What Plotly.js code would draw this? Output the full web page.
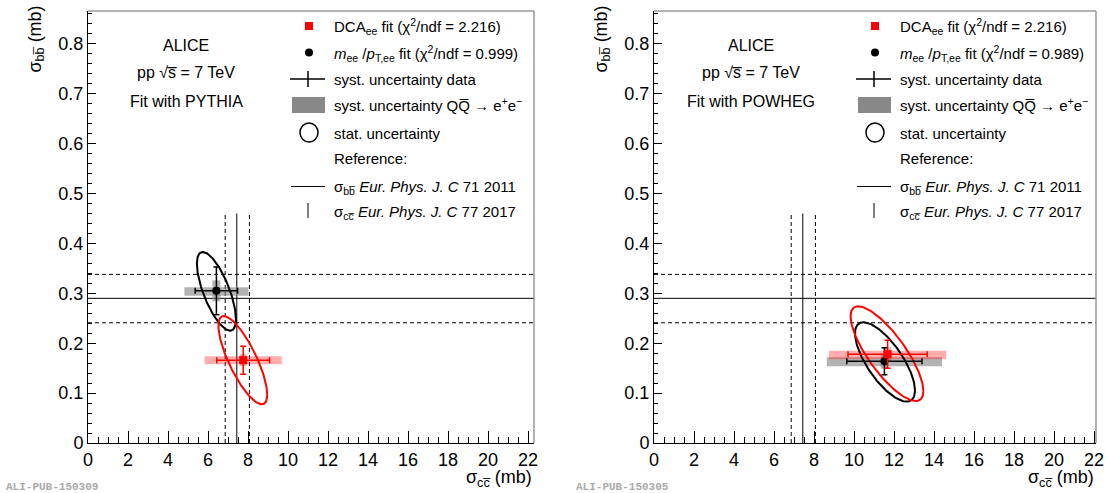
<!DOCTYPE html>
<html><head><meta charset="utf-8">
<script src="https://cdn.plot.ly/plotly-3.0.1.min.js"></script>
<style>body{margin:0;background:#fff}#plot{width:1105px;height:493px}</style>
</head><body><div id="plot"></div>
<script>
// ---------- data ----------
const panels = ["PYTHIA", "POWHEG"];
const pubIds = ["ALI-PUB-150309", "ALI-PUB-150305"];
const dcaChi2 = ["2.216", "2.216"];
const meeChi2 = ["0.999", "0.989"];

// DCA_ee fit points [PYTHIA, POWHEG]
const dcaX = [7.76, 11.68];
const dcaY = [0.166, 0.178];
const dcaErrX = [1.32, 1.98];
const dcaErrY = [0.028, 0.028];
const dcaSystX = [1.93, 2.93];
const dcaSystY = [0.008, 0.0085];
const dcaSystBoxY = [0.166, 0.1765];
const dcaVSystX = [0.18, 0.18];
const dcaVSystY = [0.012, 0.014];

// m_ee/pT,ee fit points
const meeX = [6.42, 11.52];
const meeY = [0.305, 0.164];
const meeErrX = [1.06, 1.88];
const meeErrY = [0.048, 0.027];
const meeSystX = [1.6, 2.88];
const meeSystY = [0.0085, 0.009];
const meeSystBoxY = [0.3035, 0.163];
const meeVSystX = [0.2, 0.18];
const meeVSystY = [0.021, 0.015];

// stat. uncertainty contours: centre, half extents, correlation
const dcaEllX = [7.74, 11.65];
const dcaEllY = [0.166, 0.179];
const dcaEllSX = [1.22, 1.82];
const dcaEllSY = [0.0885, 0.095];
const dcaEllRho = [-0.78, -0.79];
const meeEllX = [6.42, 11.55];
const meeEllY = [0.304, 0.1625];
const meeEllSX = [0.975, 1.5];
const meeEllSY = [0.079, 0.0795];
const meeEllRho = [-0.70, -0.72];

// reference values
const sigmaBB = [0.290, 0.241, 0.338];   // central, low, high
const sigmaCC = [7.44, 6.86, 8.07];      // central, low, high
const ccRefTop = 0.46;

const xTickStep = 2, yTickStep = 0.1;

// ---------- layout helpers ----------
const W = 1105, H = 493;
const fx = px => px / W, fy = py => 1 - py / H;
const FONT = "Liberation Sans, Arial, Helvetica, sans-serif";
const frames = [[88, 534, 22.3], [654, 1096, 22.1]];
const yTop = 11, yBot = 443;

function ellipse(cx, cy, sx, sy, rho) {
  const xs = [], ys = [], n = 180, r2 = Math.sqrt(1 - rho * rho);
  for (let i = 0; i <= n; i++) {
    const t = 2 * Math.PI * i / n;
    xs.push(cx + sx * Math.cos(t));
    ys.push(cy + sy * (rho * Math.cos(t) + r2 * Math.sin(t)));
  }
  return [xs, ys];
}

const traces = [], shapes = [], annotations = [];
const layout = {
  width: W, height: H, margin: {l: 0, r: 0, t: 0, b: 0},
  paper_bgcolor: "#fff", plot_bgcolor: "#fff", showlegend: false,
  font: {family: FONT, color: "#000"}
};

panels.forEach((name, i) => {
  const xa = i === 0 ? "x" : "x2", ya = i === 0 ? "y" : "y2";
  const xk = i === 0 ? "xaxis" : "xaxis2", yk = i === 0 ? "yaxis" : "yaxis2";
  const [fl, fr, xmax] = frames[i];
  layout[xk] = {
    domain: [fx(fl), fx(fr)], range: [0, xmax], anchor: ya,
    tickmode: "linear", tick0: 0, dtick: xTickStep,
    ticks: "inside", ticklen: 12, tickcolor: "#000", tickwidth: 1,
    minor: {dtick: 0.5, ticks: "inside", ticklen: 6, tickcolor: "#000", tickwidth: 1},
    showline: true, linecolor: "#000", linewidth: 1,
    showgrid: false, zeroline: false,
    tickfont: {size: 18, family: FONT}
  };
  layout[yk] = {
    domain: [fy(yBot), fy(yTop)], range: [0, 0.866], anchor: xa,
    tickmode: "linear", tick0: 0, dtick: yTickStep,
    ticks: "inside", ticklen: 8, tickcolor: "#000", tickwidth: 1,
    minor: {dtick: 0.02, ticks: "inside", ticklen: 4, tickcolor: "#000", tickwidth: 1},
    showline: true, linecolor: "#000", linewidth: 1,
    showgrid: false, zeroline: false,
    tickfont: {size: 18, family: FONT}
  };
  // frame (top, right)
  shapes.push({type: "line", xref: "paper", yref: "paper", x0: fx(fl), x1: fx(fr), y0: fy(yTop), y1: fy(yTop), line: {color: "#999", width: 1.5}});
  shapes.push({type: "line", xref: "paper", yref: "paper", x0: fx(fr), x1: fx(fr), y0: fy(yTop), y1: fy(yBot), line: {color: "#999", width: 1.5}});

  // reference lines
  sigmaBB.forEach((v, k) => shapes.push({type: "line", xref: xa, yref: ya, layer: "below",
    x0: 0, x1: xmax, y0: v, y1: v, line: {color: "#000", width: 1, dash: k === 0 ? "solid" : "4px,3px"}}));
  sigmaCC.forEach((v, k) => shapes.push({type: "line", xref: xa, yref: ya, layer: "below",
    x0: v, x1: v, y0: 0, y1: ccRefTop, line: {color: "#000", width: 1, dash: k === 0 ? "solid" : "4px,3px"}}));

  // syst. boxes (QQbar -> ee)
  const gray = "rgba(128,128,128,0.6)", pink = "rgba(255,0,0,0.32)";
  shapes.push({type: "rect", xref: xa, yref: ya, layer: "below", line: {width: 0}, fillcolor: gray,
    x0: meeX[i] - meeSystX[i], x1: meeX[i] + meeSystX[i], y0: meeSystBoxY[i] - meeSystY[i], y1: meeSystBoxY[i] + meeSystY[i]});
  shapes.push({type: "rect", xref: xa, yref: ya, layer: "below", line: {width: 0}, fillcolor: gray,
    x0: meeX[i] - meeVSystX[i], x1: meeX[i] + meeVSystX[i], y0: meeY[i] - meeVSystY[i], y1: meeY[i] + meeVSystY[i]});
  shapes.push({type: "rect", xref: xa, yref: ya, layer: "below", line: {width: 0}, fillcolor: pink,
    x0: dcaX[i] - dcaSystX[i], x1: dcaX[i] + dcaSystX[i], y0: dcaSystBoxY[i] - dcaSystY[i], y1: dcaSystBoxY[i] + dcaSystY[i]});
  shapes.push({type: "rect", xref: xa, yref: ya, layer: "below", line: {width: 0}, fillcolor: pink,
    x0: dcaX[i] - dcaVSystX[i], x1: dcaX[i] + dcaVSystX[i], y0: dcaY[i] - dcaVSystY[i], y1: dcaY[i] + dcaVSystY[i]});

  // stat. ellipses
  const eb = ellipse(meeEllX[i], meeEllY[i], meeEllSX[i], meeEllSY[i], meeEllRho[i]);
  traces.push({x: eb[0], y: eb[1], xaxis: xa, yaxis: ya, mode: "lines", line: {color: "#000", width: 2}, hoverinfo: "skip"});
  const er = ellipse(dcaEllX[i], dcaEllY[i], dcaEllSX[i], dcaEllSY[i], dcaEllRho[i]);
  traces.push({x: er[0], y: er[1], xaxis: xa, yaxis: ya, mode: "lines", line: {color: "#ff0000", width: 2}, hoverinfo: "skip"});

  // points with syst. data uncertainty
  traces.push({x: [meeX[i]], y: [meeY[i]], xaxis: xa, yaxis: ya, mode: "markers",
    marker: {symbol: "circle", size: 8, color: "#000"},
    error_x: {type: "data", array: [meeErrX[i]], color: "#000", thickness: 1.5, width: 3},
    error_y: {type: "data", array: [meeErrY[i]], color: "#000", thickness: 1.5, width: 3}});
  traces.push({x: [dcaX[i]], y: [dcaY[i]], xaxis: xa, yaxis: ya, mode: "markers",
    marker: {symbol: "square", size: 8, color: "#ff0000"},
    error_x: {type: "data", array: [dcaErrX[i]], color: "#ff0000", thickness: 1.5, width: 3},
    error_y: {type: "data", array: [dcaErrY[i]], color: "#ff0000", thickness: 1.5, width: 3}});

  // legend (drawn manually)
  const o = i === 0 ? 0 : 566;
  const sx = 309 + o, tx = 332 + o;
  shapes.push({type: "rect", xref: "paper", yref: "paper", x0: fx(sx - 4), x1: fx(sx + 4), y0: fy(30), y1: fy(22), fillcolor: "#ff0000", line: {width: 0}});
  shapes.push({type: "circle", xref: "paper", yref: "paper", x0: fx(sx - 4), x1: fx(sx + 4), y0: fy(56.5), y1: fy(48.5), fillcolor: "#000", line: {width: 0}});
  shapes.push({type: "line", xref: "paper", yref: "paper", x0: fx(290 + o), x1: fx(325 + o), y0: fy(79), y1: fy(79), line: {color: "#000", width: 1.5}});
  shapes.push({type: "line", xref: "paper", yref: "paper", x0: fx(sx - 1), x1: fx(sx - 1), y0: fy(71), y1: fy(87), line: {color: "#000", width: 1.5}});
  shapes.push({type: "rect", xref: "paper", yref: "paper", x0: fx(292 + o), x1: fx(325 + o), y0: fy(113), y1: fy(97), fillcolor: "#888", line: {width: 0}});
  shapes.push({type: "circle", xref: "paper", yref: "paper", x0: fx(sx - 9), x1: fx(sx + 9), y0: fy(142), y1: fy(123), line: {color: "#000", width: 1.5}});
  shapes.push({type: "line", xref: "paper", yref: "paper", x0: fx(291 + o), x1: fx(325 + o), y0: fy(186.5), y1: fy(186.5), line: {color: "#000", width: 1}});
  shapes.push({type: "line", xref: "paper", yref: "paper", x0: fx(sx - 1), x1: fx(sx - 1), y0: fy(203), y1: fy(218), line: {color: "#000", width: 1}});

  const legTexts = [
    [26, `DCA<sub>ee</sub> fit (χ<sup>2</sup>/ndf = ${dcaChi2[i]})`],
    [53, `<i>m</i><sub>ee</sub> /<i>p</i><sub>T,ee</sub> fit (χ<sup>2</sup>/ndf = ${meeChi2[i]})`],
    [79, "syst. uncertainty data"],
    [105, "syst. uncertainty QQ\u0305 \u2192 e<sup>+</sup>e<sup>\u2212</sup>"],
    [133, "stat. uncertainty"],
    [159, "Reference:"],
    [187, "σ<sub>bb\u0305</sub> <i>Eur. Phys. J. C</i> 71 2011"],
    [212, "σ<sub>cc\u0305</sub> <i>Eur. Phys. J. C</i> 77 2017"]
  ];
  legTexts.forEach(([py, t]) => annotations.push({xref: "paper", yref: "paper", x: fx(tx), y: fy(py),
    xanchor: "left", yanchor: "middle", text: t, showarrow: false, font: {size: 15, family: FONT}}));

  // ALICE label
  const cx = i === 0 ? 186 : 751;
  [[45, "ALICE"], [72, "pp \u221As\u0305 = 7 TeV"], [101, "Fit with " + name]].forEach(([py, t]) =>
    annotations.push({xref: "paper", yref: "paper", x: fx(cx), y: fy(py), xanchor: "center", yanchor: "middle",
      text: t, showarrow: false, font: {size: 16, family: FONT}}));

  // axis titles
  annotations.push({xref: "paper", yref: "paper", x: fx(fr), y: fy(465), xanchor: "right", yanchor: "top",
    text: "σ<sub>cc\u0305</sub> (mb)", showarrow: false, font: {size: 18, family: FONT}});
  annotations.push({xref: "paper", yref: "paper", x: fx(fl - 52), y: fy(4), xanchor: "center", yanchor: "top",
    textangle: -90, text: "σ<sub>bb\u0305</sub> (mb)", showarrow: false, font: {size: 18, family: FONT}});

  // publication id
  annotations.push({xref: "paper", yref: "paper", x: fx(i === 0 ? 4 : 574), y: fy(487), xanchor: "left", yanchor: "middle",
    text: "<b>" + pubIds[i] + "</b>", showarrow: false, font: {size: 11, family: "Liberation Mono, Courier New, monospace", color: "#aaa"}});
});

layout.shapes = shapes;
layout.annotations = annotations;
Plotly.newPlot("plot", traces, layout, {staticPlot: true});
</script>
</body></html>
